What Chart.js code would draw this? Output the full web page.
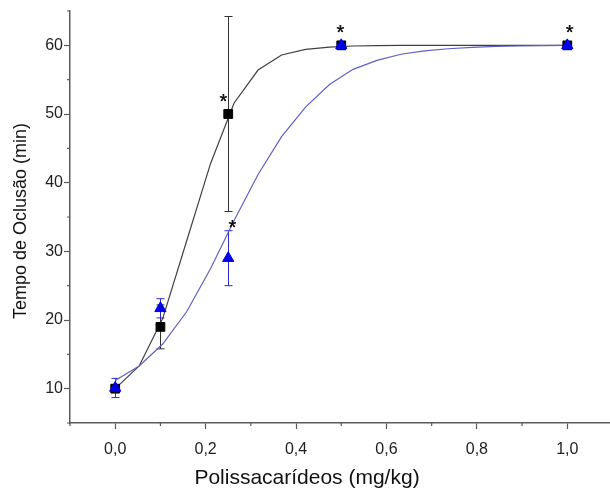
<!DOCTYPE html>
<html>
<head>
<meta charset="utf-8">
<script src="https://cdn.jsdelivr.net/npm/chart.js@4/dist/chart.umd.min.js"></script>
<style>
  html, body { margin: 0; padding: 0; background: #fff; overflow: hidden; }
  #wrap { width: 610px; height: 491px; overflow: hidden; }
  canvas { display: block; }
</style>
</head>
<body>
<div id="wrap"><canvas id="occlusion" width="620" height="491"></canvas></div>
<script>
// doses tested (mg/kg)
var doses = [0, 0.1, 0.25, 0.5, 1.0];

// mean occlusion time (min) and SD, square series
var squareMean = [10, 19, 50, 60, 60];
var squareSd = [0, 3.2, 14.2, 0, 0];

// mean occlusion time (min) and SD, triangle series
var triangleMean = [10.1, 21.7, 29, 60, 60];
var triangleSd = [1.4, 1.4, 4, 0, 0];

// fitted curves
var fitX = [0, 0.053, 0.105, 0.158, 0.211, 0.263, 0.316, 0.368, 0.421, 0.474,
            0.526, 0.579, 0.632, 0.684, 0.737, 0.789, 0.842, 0.895, 0.947, 1.0];
var squareFit = [10, 13.3, 20.2, 31.5, 42.8, 51.6, 56.4, 58.6, 59.4, 59.75,
                 59.9, 59.95, 60, 60, 60, 60, 60, 60, 60, 60];
var triangleFit = [11.2, 13.3, 16.5, 21.2, 27.5, 34.5, 41.2, 46.7, 51, 54.3,
                   56.5, 57.8, 58.7, 59.2, 59.5, 59.7, 59.85, 59.9, 59.95, 60];

// significance marks (*)
var starX = [0.25, 0.25, 0.5, 1.0];
var starY = [50, 29, 60, 60];

// axis ticks
var xTicks = [0, 0.2, 0.4, 0.6, 0.8, 1.0];
var xMinor = [-0.1, 0.1, 0.3, 0.5, 0.7, 0.9, 1.1];
var yTicks = [10, 20, 30, 40, 50, 60];
var yMinor = [5, 15, 25, 35, 45, 55, 65];

var FONT = '"Liberation Sans", Arial, sans-serif';
var AXIS = '#5a5a5a';

function points(xs, ys) {
    return xs.map(function(x, i) { return {x: x, y: ys[i]}; });
}

var errorBars = {
    id: 'errorBars',
    beforeDatasetsDraw: function(chart) {
        var ctx = chart.ctx, xs = chart.scales.x, ys = chart.scales.y;
        var sets = [[squareMean, squareSd, '#333'], [triangleMean, triangleSd, '#2a2ad0']];
        ctx.save();
        ctx.lineWidth = 1;
        sets.forEach(function(s) {
            ctx.strokeStyle = s[2];
            doses.forEach(function(d, i) {
                if (!s[1][i]) return;
                var px = Math.round(xs.getPixelForValue(d)) + 0.5;
                var top = ys.getPixelForValue(s[0][i] + s[1][i]);
                var bot = ys.getPixelForValue(s[0][i] - s[1][i]);
                ctx.beginPath();
                ctx.moveTo(px, top); ctx.lineTo(px, bot);
                ctx.moveTo(px - 4, top); ctx.lineTo(px + 4, top);
                ctx.moveTo(px - 4, bot); ctx.lineTo(px + 4, bot);
                ctx.stroke();
            });
        });
        ctx.restore();
    }
};

var decorations = {
    id: 'decorations',
    afterDraw: function(chart) {
        var ctx = chart.ctx, xs = chart.scales.x, ys = chart.scales.y;
        ctx.save();
        // minor ticks
        ctx.strokeStyle = AXIS;
        ctx.lineWidth = 1.2;
        ctx.beginPath();
        xMinor.forEach(function(v) {
            var px = xs.getPixelForValue(v);
            ctx.moveTo(px, ys.bottom); ctx.lineTo(px, ys.bottom + 3);
        });
        yMinor.forEach(function(v) {
            var py = ys.getPixelForValue(v);
            ctx.moveTo(xs.left, py); ctx.lineTo(xs.left - 3, py);
        });
        ctx.stroke();

        // asterisks
        var nudge = [[-5, -17], [4, -35], [-1, -17], [2, -17]];
        ctx.fillStyle = '#111';
        ctx.font = '20px ' + FONT;
        ctx.textAlign = 'center';
        ctx.textBaseline = 'alphabetic';
        starX.forEach(function(v, i) {
            var px = xs.getPixelForValue(v) + nudge[i][0];
            var py = ys.getPixelForValue(starY[i]) + nudge[i][1];
            ctx.fillText('*', px, py + 11);
            ctx.fillText('*', px + 0.5, py + 11);
        });

        // axis titles
        ctx.fillStyle = '#111';
        ctx.textBaseline = 'middle';
        ctx.font = '21px ' + FONT;
        ctx.fillText('Polissacarídeos (mg/kg)', 307, 478);
        ctx.translate(21, 221);
        ctx.rotate(-Math.PI / 2);
        ctx.font = '18px ' + FONT;
        ctx.fillText('Tempo de Oclusão (min)', 0, 0);
        ctx.restore();
    }
};

new Chart(document.getElementById('occlusion'), {
    type: 'scatter',
    data: {
        datasets: [
            {
                label: 'triangles',
                data: points(doses, triangleMean),
                pointStyle: 'triangle',
                pointRadius: 6.5,
                backgroundColor: '#0000e8',
                borderColor: '#0000e8',
                borderWidth: 1,
                order: 0
            },
            {
                label: 'squares',
                data: points(doses, squareMean),
                pointStyle: 'rect',
                pointRadius: 6.2,
                backgroundColor: '#000',
                borderColor: '#000',
                borderWidth: 1,
                order: 1
            },
            {
                type: 'line',
                label: 'triangle fit',
                data: points(fitX, triangleFit),
                borderColor: '#6060c4',
                borderWidth: 1.2,
                pointRadius: 0,
                tension: 0,
                fill: false,
                order: 2
            },
            {
                type: 'line',
                label: 'square fit',
                data: points(fitX, squareFit),
                borderColor: '#404040',
                borderWidth: 1.2,
                pointRadius: 0,
                tension: 0,
                fill: false,
                order: 3
            }
        ]
    },
    options: {
        responsive: false,
        animation: false,
        layout: { padding: { top: 11, right: 2, left: 0, bottom: 0 } },
        plugins: { legend: { display: false }, tooltip: { enabled: false } },
        scales: {
            x: {
                type: 'linear',
                min: -0.1,
                max: 1.1,
                afterBuildTicks: function(scale) {
                    scale.ticks = xTicks.map(function(v) { return {value: v}; });
                },
                afterFit: function(scale) { scale.height = 68; },
                ticks: {
                    color: '#222',
                    font: { family: FONT, size: 16 },
                    padding: 11,
                    maxRotation: 0,
                    callback: function(v) { return v.toFixed(1).replace('.', ','); }
                },
                grid: { drawOnChartArea: false, drawTicks: true, tickLength: 6, tickColor: AXIS, tickWidth: 1.2 },
                border: { display: true, color: AXIS, width: 1.5 }
            },
            y: {
                min: 5,
                max: 65,
                afterBuildTicks: function(scale) {
                    scale.ticks = yTicks.map(function(v) { return {value: v}; });
                },
                afterFit: function(scale) { scale.width = 70; },
                ticks: {
                    color: '#222',
                    font: { family: FONT, size: 16 },
                    padding: 1
                },
                grid: { drawOnChartArea: false, drawTicks: true, tickLength: 6, tickColor: AXIS, tickWidth: 1.2 },
                border: { display: true, color: AXIS, width: 1.5 }
            }
        }
    },
    plugins: [errorBars, decorations]
});
</script>
</body>
</html>
